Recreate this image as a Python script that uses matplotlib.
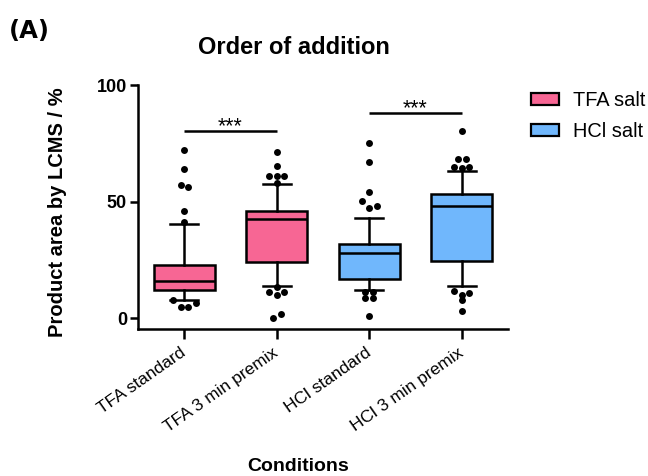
import matplotlib
matplotlib.use("Agg")
import matplotlib.pyplot as plt
from matplotlib.patches import Patch
import numpy as np

plt.rcParams['font.family'] = ['Liberation Sans', 'DejaVu Sans']

# ---------------- data ----------------
categories = ["TFA standard", "TFA 3 min premix", "HCl standard", "HCl 3 min premix"]
salt = ["TFA salt", "TFA salt", "HCl salt", "HCl salt"]
q1 = [12.3, 24.3, 16.8, 24.6]
median = [16.0, 42.6, 28.0, 48.1]
q3 = [22.8, 46.1, 32.0, 53.1]
whisker_low = [8.0, 14.0, 12.0, 14.0]
whisker_high = [40.6, 57.6, 43.1, 63.1]
# outliers (listed left-to-right within overlapping groups)
fliers_tfa_std = [72.1, 64.1, 57.1, 56.1, 46.1, 41.1, 7.8, 5.0, 5.0, 6.5]
fliers_tfa_premix = [71.1, 65.1, 61.0, 61.0, 61.0, 58.1, 13.3, 11.1, 10.0, 11.1, 0.0, 1.8]
fliers_hcl_std = [75.3, 67.1, 54.1, 50.1, 47.3, 48.0, 11.1, 8.8, 8.8, 11.1, 0.8]
fliers_hcl_premix = [80.3, 68.1, 68.1, 65.0, 64.3, 65.0, 11.8, 10.0, 11.0, 7.8, 3.0]
fliers = [fliers_tfa_std, fliers_tfa_premix, fliers_hcl_std, fliers_hcl_premix]
significance = [("***", 0, 1, 80.4), ("***", 2, 3, 88.1)]
y_ticks = [0, 50, 100]
legend_labels = ["TFA salt", "HCl salt"]
colors = {"TFA salt": "#F76694", "HCl salt": "#70B7FC"}

# ---------------- figure ----------------
fig = plt.figure(figsize=(6.48, 4.76), dpi=100)
ax = fig.add_axes([0.2131, 0.3082, 0.5708, 0.5132])

LW = 1.8
positions = np.arange(len(categories))
stats = []
for i in range(len(categories)):
    stats.append(dict(med=median[i], q1=q1[i], q3=q3[i],
                      whislo=whisker_low[i], whishi=whisker_high[i],
                      fliers=[], label=categories[i]))
bp = ax.bxp(stats, positions=positions, widths=0.66, patch_artist=True,
            showfliers=False, capwidths=0.30,
            boxprops=dict(linewidth=LW, edgecolor='black'),
            medianprops=dict(color='black', linewidth=LW),
            whiskerprops=dict(color='black', linewidth=LW),
            capprops=dict(color='black', linewidth=LW))
for patch, s in zip(bp['boxes'], salt):
    patch.set_facecolor(colors[s])


def swarm_offsets(values, thresh=2.15, step=0.082):
    vals = np.asarray(values, dtype=float)
    order = np.argsort(vals, kind='stable')
    clusters = []
    cur = [order[0]]
    for a, b in zip(order[:-1], order[1:]):
        if vals[b] - vals[a] < thresh:
            cur.append(b)
        else:
            clusters.append(cur)
            cur = [b]
    clusters.append(cur)
    offs = np.zeros(len(vals))
    for c in clusters:
        c = sorted(c)  # keep list order (left-to-right)
        k = len(c)
        for j, idx in enumerate(c):
            offs[idx] = (j - (k - 1) / 2) * step
    return offs


for i, fl in enumerate(fliers):
    offs = swarm_offsets(fl)
    ax.plot(positions[i] + offs, fl, 'o', color='black', markersize=5,
            markeredgewidth=0, clip_on=False, zorder=5)

for txt, a, b, y in significance:
    ax.plot([positions[a], positions[b]], [y, y], color='black', lw=LW,
            solid_capstyle='butt')
    ax.text((positions[a] + positions[b]) / 2, y - 0.6, txt, ha='center',
            va='baseline', fontsize=15.5)

ax.set_xlim(-0.5, 3.5)
ax.set_ylim(-4.7, 100)
ax.set_yticks(y_ticks)
ax.set_yticklabels([str(t) for t in y_ticks], fontsize=13, fontweight='bold')
ax.set_xticks(positions)
ax.set_xticklabels(categories, fontsize=12.5, rotation=35, ha='right',
                   va='center', rotation_mode='anchor')
ax.tick_params(axis='x', length=7, width=LW, pad=9)
ax.tick_params(axis='y', length=6, width=LW, pad=2)
for sp in ['top', 'right']:
    ax.spines[sp].set_visible(False)
for sp in ['left', 'bottom']:
    ax.spines[sp].set_linewidth(LW)

fig.text(0.4537, 0.901, "Order of addition", ha='center', va='center',
         fontsize=17, fontweight='bold')
fig.text(9 / 648, 1 - 31 / 476, "(A)", ha='left', va='center', fontsize=17.5,
         fontweight='bold', family=['DejaVu Sans'])
fig.text(0.088, 0.5546, "Product area by LCMS / %", ha='center', va='center',
         rotation=90, fontsize=14.5, fontweight='bold')
fig.text(0.46, 0.021, "Conditions", ha='center', va='center', fontsize=14,
         fontweight='bold')

handles = [Patch(facecolor=colors[l], edgecolor='black', linewidth=1.6,
                 label=l) for l in legend_labels]
fig.legend(handles=handles, loc='upper left',
           bbox_to_anchor=(531 / 648, 1 - 91 / 476), frameon=False,
           fontsize=14.4, handlelength=1.4, handleheight=0.56,
           handletextpad=0.7, labelspacing=0.62, borderpad=0,
           borderaxespad=0)

fig.savefig("out.png", dpi=100)
